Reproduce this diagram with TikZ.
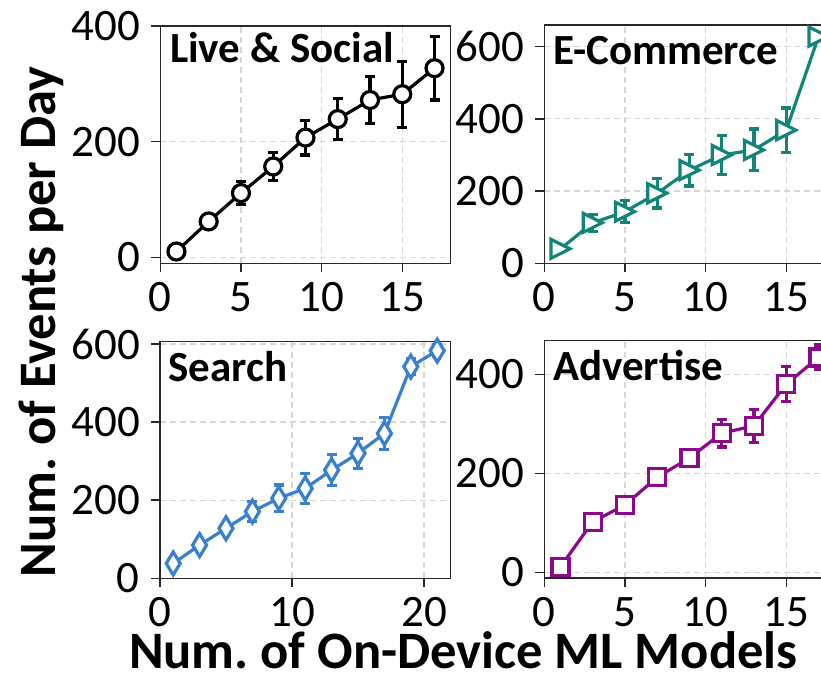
\documentclass[tikz,border=0pt]{standalone}
\usepackage{fontspec}
\setmainfont{Carlito}
\frenchspacing
\definecolor{ecteal}{RGB}{18,133,120}
\definecolor{srblue}{RGB}{58,128,208}
\definecolor{adpurple}{RGB}{139,10,139}
\definecolor{gridgray}{RGB}{214,214,214}
\definecolor{axgray}{RGB}{40,40,40}
\newcommand\tickfont{\fontsize{45}{45}\selectfont}
\newcommand\titlefont{\fontsize{43}{43}\selectfont\bfseries}
\newcommand\labelfont{\fontsize{52.6}{52.6}\selectfont\bfseries}
% marker shapes, drawn at a named coordinate
\newcommand\mkcirc[2]{\draw[mkline,draw=#2] (#1) circle[radius=8.5pt];}
\newcommand\mktri[2]{\draw[mkline,draw=#2] (#1) ++(-9.5pt,9.5pt) -- ++(0pt,-19pt) -- ++(19pt,9.5pt) -- cycle;}
\newcommand\mkdia[2]{\draw[mkline,draw=#2] (#1) ++(0pt,11.5pt) -- ++(7pt,-11.5pt) -- ++(-7pt,-11.5pt) -- ++(-7pt,11.5pt) -- cycle;}
\newcommand\mksq[2]{\draw[mkline,draw=#2] (#1) ++(-8.5pt,-8.5pt) rectangle ++(17pt,17pt);}
\begin{document}
\begin{tikzpicture}[x=1pt,y=1pt,
  gridln/.style={draw=gridgray,line width=1.2pt,dash pattern=on 6pt off 4pt},
  axframe/.style={draw=axgray,line width=1.5pt},
  ytl/.style={anchor=east,inner sep=0pt,xshift=-20pt,font=\tickfont},
  xtl/.style={anchor=north,inner sep=0pt,yshift=-19pt,font=\tickfont},
  ttl/.style={anchor=base west,inner sep=0pt,font=\titlefont},
  dataln/.style={line width=3.2pt,line join=round},
  errbar/.style={line width=3.2pt},
  mkline/.style={line width=3.2pt,fill=white,line join=miter}]
\useasboundingbox (0,0) rectangle (821,684);
\clip (0,0) rectangle (821,684);

% ---------------- Live & Social ----------------
\begin{scope}[shift={(160.3pt,426.7pt)},x=16.13pt,y=0.5783pt]
  \foreach \g in {5,10,15} \draw[gridln] (\g,-10.4) -- (\g,400);
  \foreach \g in {0,200} \draw[gridln] (0,\g) -- (18,\g);
  \draw[axframe] (0,-10.4) rectangle (18,400);
  \foreach \t in {0,200,400} {\draw[axframe] (0,\t) -- ++(-9pt,0pt); \node[ytl] (ay\t) at (0,\t) {\t};}
  \foreach \t in {0,5,10,15} {\draw[axframe] (\t,-10.4) -- ++(0pt,-9pt); \node[xtl] (ax\t) at (\t,-10.4) {\t};}
  \foreach \x/\y/\e [count=\i] in {1/10/0,3/62/0,5/111/20,7/157/24,9/207/30,11/239/35,13/272/41,15/282/57,17/327/55} {
    \coordinate (ls\i) at (\x,\y);
    \draw[errbar,black] (\x,\y-\e) -- (\x,\y+\e);
    \draw[errbar,black] (\x,\y-\e) ++(-5pt,0pt) -- ++(10pt,0pt);
    \draw[errbar,black] (\x,\y+\e) ++(-5pt,0pt) -- ++(10pt,0pt);
  }
  \draw[dataln,black] (ls1) \foreach \i in {2,...,9} { -- (ls\i) };
  \foreach \i in {1,...,9} {\mkcirc{ls\i}{black}}
\end{scope}
\node[ttl] (t1) at (170,621) {Live \& Social};

% ---------------- E-Commerce ----------------
\begin{scope}[shift={(544.3pt,420.7pt)},x=16.13pt,y=0.361pt]
  \foreach \g in {5,10,15} \draw[gridln] (\g,0) -- (\g,660);
  \foreach \g in {200,400,600} \draw[gridln] (0,\g) -- (18,\g);
  \draw[axframe] (0,0) rectangle (18,660);
  \foreach \t in {0,200,400,600} {\draw[axframe] (0,\t) -- ++(-9pt,0pt); \node[ytl] (by\t) at (0,\t) {\t};}
  \foreach \t in {0,5,10,15} {\draw[axframe] (\t,0) -- ++(0pt,-9pt); \node[xtl] (bx\t) at (\t,0) {\t};}
  \foreach \x/\y/\e [count=\i] in {1/40/0,3/112/23,5/143/30,7/194/41,9/258/44,11/300/53,13/314/58,15/369/61,17/628/0} {
    \coordinate (ec\i) at (\x,\y);
    \draw[errbar,ecteal] (\x,\y-\e) -- (\x,\y+\e);
    \draw[errbar,ecteal] (\x,\y-\e) ++(-5pt,0pt) -- ++(10pt,0pt);
    \draw[errbar,ecteal] (\x,\y+\e) ++(-5pt,0pt) -- ++(10pt,0pt);
  }
  \draw[dataln,ecteal] (ec1) \foreach \i in {2,...,9} { -- (ec\i) };
  \foreach \i in {1,...,9} {\mktri{ec\i}{ecteal}}
\end{scope}
\node[ttl] (t2) at (553,619) {E-Commerce};

% ---------------- Search ----------------
\begin{scope}[shift={(160pt,105.7pt)},x=13.2pt,y=0.3905pt]
  \foreach \g in {10,20} \draw[gridln] (\g,0) -- (\g,606);
  \foreach \g in {200,400,600} \draw[gridln] (0,\g) -- (22,\g);
  \draw[axframe] (0,0) rectangle (22,606);
  \foreach \t in {0,200,400,600} {\draw[axframe] (0,\t) -- ++(-9pt,0pt); \node[ytl] (cy\t) at (0,\t) {\t};}
  \foreach \t in {0,10,20} {\draw[axframe] (\t,0) -- ++(0pt,-9pt); \node[xtl] (cx\t) at (\t,0) {\t};}
  \foreach \x/\y/\e [count=\i] in {1/38/0,3/85/0,5/128/0,7/171/25,9/205/34,11/230/38,13/277/39,15/320/39,17/371/41,19/542/20,21/583/15} {
    \coordinate (sr\i) at (\x,\y);
    \draw[errbar,srblue] (\x,\y-\e) -- (\x,\y+\e);
    \draw[errbar,srblue] (\x,\y-\e) ++(-5pt,0pt) -- ++(10pt,0pt);
    \draw[errbar,srblue] (\x,\y+\e) ++(-5pt,0pt) -- ++(10pt,0pt);
  }
  \draw[dataln,srblue] (sr1) \foreach \i in {2,...,11} { -- (sr\i) };
  \foreach \i in {1,...,11} {\mkdia{sr\i}{srblue}}
\end{scope}
\node[ttl] (t3) at (168,302.3) {Search};

% ---------------- Advertise ----------------
\begin{scope}[shift={(544.3pt,111.7pt)},x=16.13pt,y=0.495pt]
  \foreach \g in {5,10,15} \draw[gridln] (\g,-12) -- (\g,468);
  \foreach \g in {0,200,400} \draw[gridln] (0,\g) -- (18,\g);
  \draw[axframe] (0,-12) rectangle (18,468);
  \foreach \t in {0,200,400} {\draw[axframe] (0,\t) -- ++(-9pt,0pt); \node[ytl] (dy\t) at (0,\t) {\t};}
  \foreach \t in {0,5,10,15} {\draw[axframe] (\t,-12) -- ++(0pt,-9pt); \node[xtl] (dx\t) at (\t,-12) {\t};}
  \foreach \x/\y/\e [count=\i] in {1/11/0,3/102/0,5/136/0,7/192/12,9/231/12,11/281/28,13/296/33,15/380/35,17/434/25} {
    \coordinate (ad\i) at (\x,\y);
    \draw[errbar,adpurple] (\x,\y-\e) -- (\x,\y+\e);
    \draw[errbar,adpurple] (\x,\y-\e) ++(-5pt,0pt) -- ++(10pt,0pt);
    \draw[errbar,adpurple] (\x,\y+\e) ++(-5pt,0pt) -- ++(10pt,0pt);
  }
  \draw[dataln,adpurple] (ad1) \foreach \i in {2,...,9} { -- (ad\i) };
  \foreach \i in {1,...,9} {\mksq{ad\i}{adpurple}}
\end{scope}
\node[ttl] (t4) at (553,303) {Advertise};

% ---------------- shared axis labels ----------------
\node[anchor=base,inner sep=0pt,rotate=90,font=\labelfont] (ylab) at (55,362) {Num. of Events per Day};
\node[anchor=base,inner sep=0pt,font=\labelfont] (xlab) at (463.5,15) {Num. of On-Device ML Models};
\end{tikzpicture}
\end{document}
